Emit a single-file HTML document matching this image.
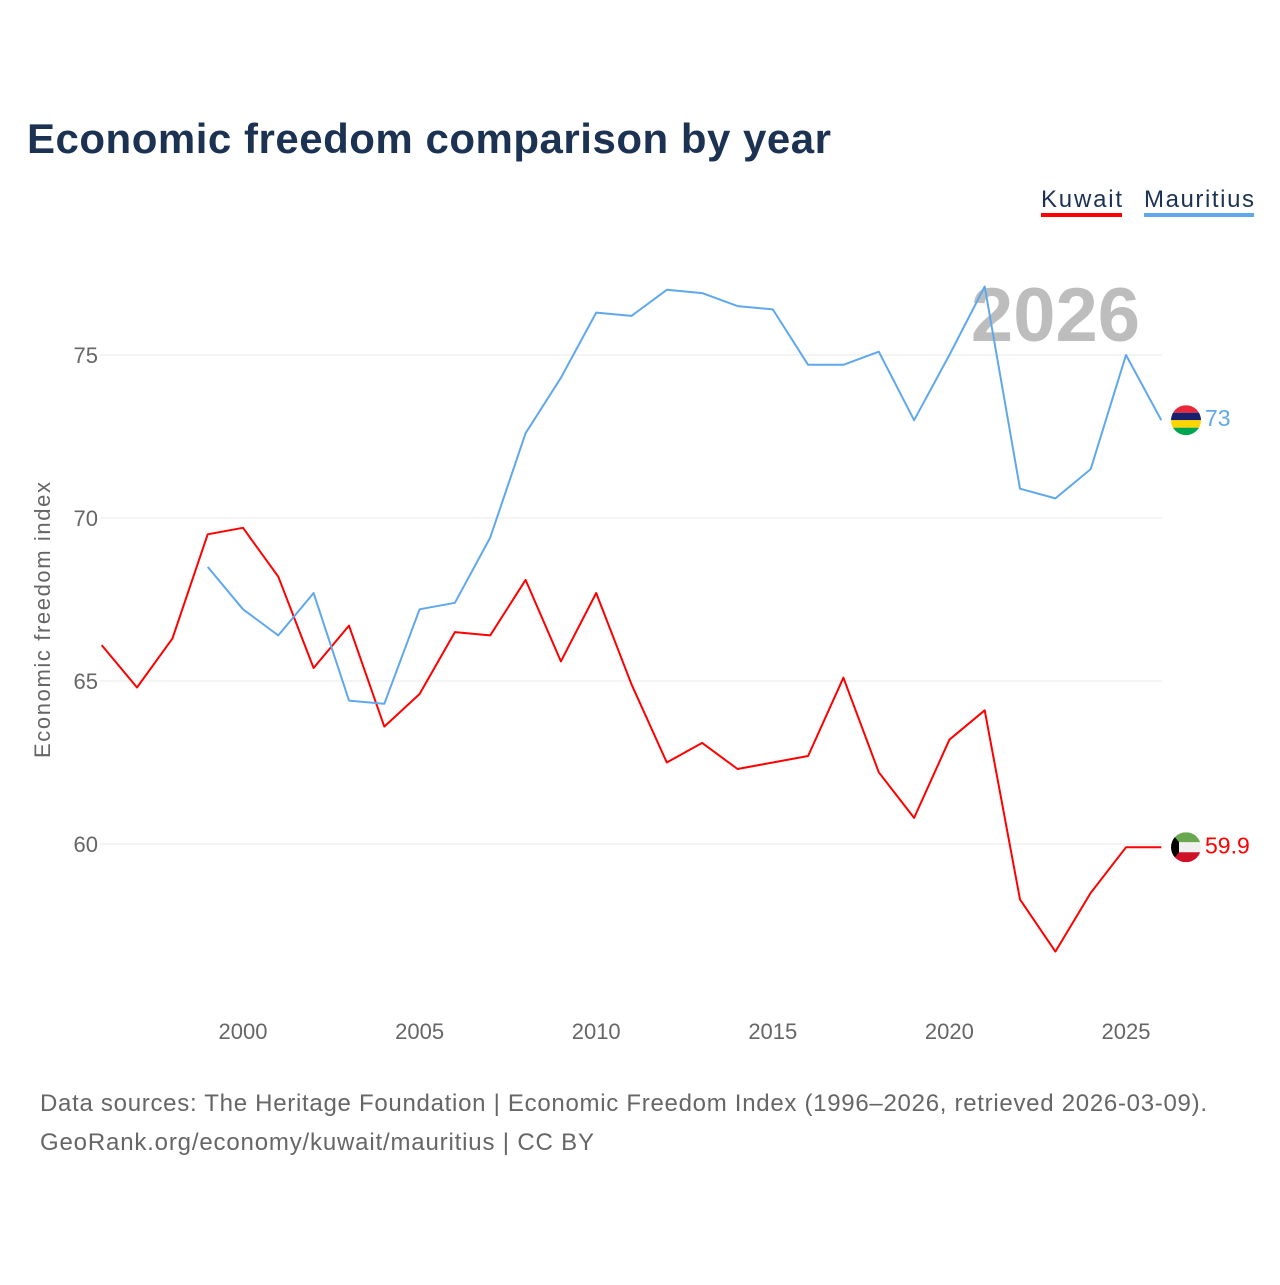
<!DOCTYPE html>
<html><head><meta charset="utf-8"><style>
body{margin:0;background:#fff;font-family:"Liberation Sans",sans-serif;}
</style></head><body>
<svg id="chart" width="1280" height="1280" xmlns="http://www.w3.org/2000/svg">
<text x="27" y="153" font-size="42" font-weight="bold" fill="#1c3253" textLength="804">Economic freedom comparison by year</text>
<g><text x="1041" y="207" font-size="24" fill="#1c3253" textLength="81">Kuwait</text><rect x="1041" y="213" width="81" height="4" fill="#ff0000"/></g>
<g><text x="1144" y="207" font-size="24" fill="#1c3253" textLength="110">Mauritius</text><rect x="1144" y="213" width="110" height="4" fill="#5fa8ec"/></g>
<text x="1140" y="341" font-size="76" font-weight="bold" fill="#bdbdbd" text-anchor="end">2026</text>
<text transform="translate(50,620) rotate(-90)" font-size="22" fill="#666" text-anchor="middle" textLength="276">Economic freedom index</text>
<g id="grid"></g><g id="xt"></g><g id="lines"></g>
<text x="40" y="1111" font-size="24" fill="#666" textLength="1167">Data sources: The Heritage Foundation | Economic Freedom Index (1996–2026, retrieved 2026-03-09).</text>
<text x="40" y="1150" font-size="24" fill="#666" textLength="554">GeoRank.org/economy/kuwait/mauritius | CC BY</text>
</svg>
<script>
const years=[1996,1997,1998,1999,2000,2001,2002,2003,2004,2005,2006,2007,2008,2009,2010,2011,2012,2013,2014,2015,2016,2017,2018,2019,2020,2021,2022,2023,2024,2025,2026];
const kuwait=[66.1,64.8,66.3,69.5,69.7,68.2,65.4,66.7,63.6,64.6,66.5,66.4,68.1,65.6,67.7,64.9,62.5,63.1,62.3,62.5,62.7,65.1,62.2,60.8,63.2,64.1,58.3,56.7,58.5,59.9,59.9];
const mauritius=[null,null,null,68.5,67.2,66.4,67.7,64.4,64.3,67.2,67.4,69.4,72.6,74.3,76.3,76.2,77.0,76.9,76.5,76.4,74.7,74.7,75.1,73.0,75.0,77.1,70.9,70.6,71.5,75.0,73.0];
const yTicks=[60,65,70,75];
const xTicks=[2000,2005,2010,2015,2020,2025];
const X=y=>243+(y-2000)*35.32;
const Y=v=>355+(75-v)*32.6;
const NS="http://www.w3.org/2000/svg";
function mk(t,a,p){const e=document.createElementNS(NS,t);for(const k in a)e.setAttribute(k,a[k]);p.appendChild(e);return e;}
const grid=document.getElementById('grid');
yTicks.forEach(v=>{
 const l=mk('line',{x1:100,x2:1162,y1:Y(v),y2:Y(v),stroke:'#e8e8e8','stroke-width':1},grid);
 
 
 const t=mk('text',{x:98,y:Y(v)+8,'font-size':22,fill:'#666','text-anchor':'end'},grid);t.textContent=v;
 
 
});
const xt=document.getElementById('xt');
xTicks.forEach(v=>{
 const t=mk('text',{x:X(v),y:1039,'font-size':22,fill:'#666','text-anchor':'middle'},xt);t.textContent=v;
 
 
});
const lines=document.getElementById('lines');
function series(vals,color,name){
 const pts=[];vals.forEach((v,i)=>{if(v!=null)pts.push(X(years[i]).toFixed(1)+','+Y(v).toFixed(1));});
 const p=mk('polyline',{points:pts.join(' '),fill:'none',stroke:color,'stroke-width':2,'stroke-linejoin':'round'},lines);
 
 
 const last=vals[vals.length-1];
 const t=mk('text',{x:1205,y:Y(last)+6,'font-size':23,fill:color},lines);t.textContent=last;
 
 
 return Y(last);
}
const ky=series(kuwait,'#ff0000','kuwait');
const my=series(mauritius,'#5fa8ec','mauritius');
const fm=mk('g',{},lines);


const cm=mk('clipPath',{id:'cm'},fm);mk('circle',{cx:1186,cy:my,r:15},cm);
const mc=['#ea2839','#1a206d','#ffd500','#00a551'];
mc.forEach((c,i)=>mk('rect',{x:1171,y:my-15+i*7.5,width:30,height:7.5,fill:c,'clip-path':'url(#cm)'},fm));
const fk=mk('g',{},lines);


const ck=mk('clipPath',{id:'ck'},fk);mk('circle',{cx:1186,cy:ky,r:15},ck);
['#6aa84f','#f0f0f0','#ce1126'].forEach((c,i)=>mk('rect',{x:1171,y:ky-15+i*10,width:30,height:10,fill:c,'clip-path':'url(#ck)'},fk));
mk('polygon',{points:`1171,${ky-15} 1179,${ky-5} 1179,${ky+5} 1171,${ky+15}`,fill:'#000','clip-path':'url(#ck)'},fk);
</script>
</body></html>
